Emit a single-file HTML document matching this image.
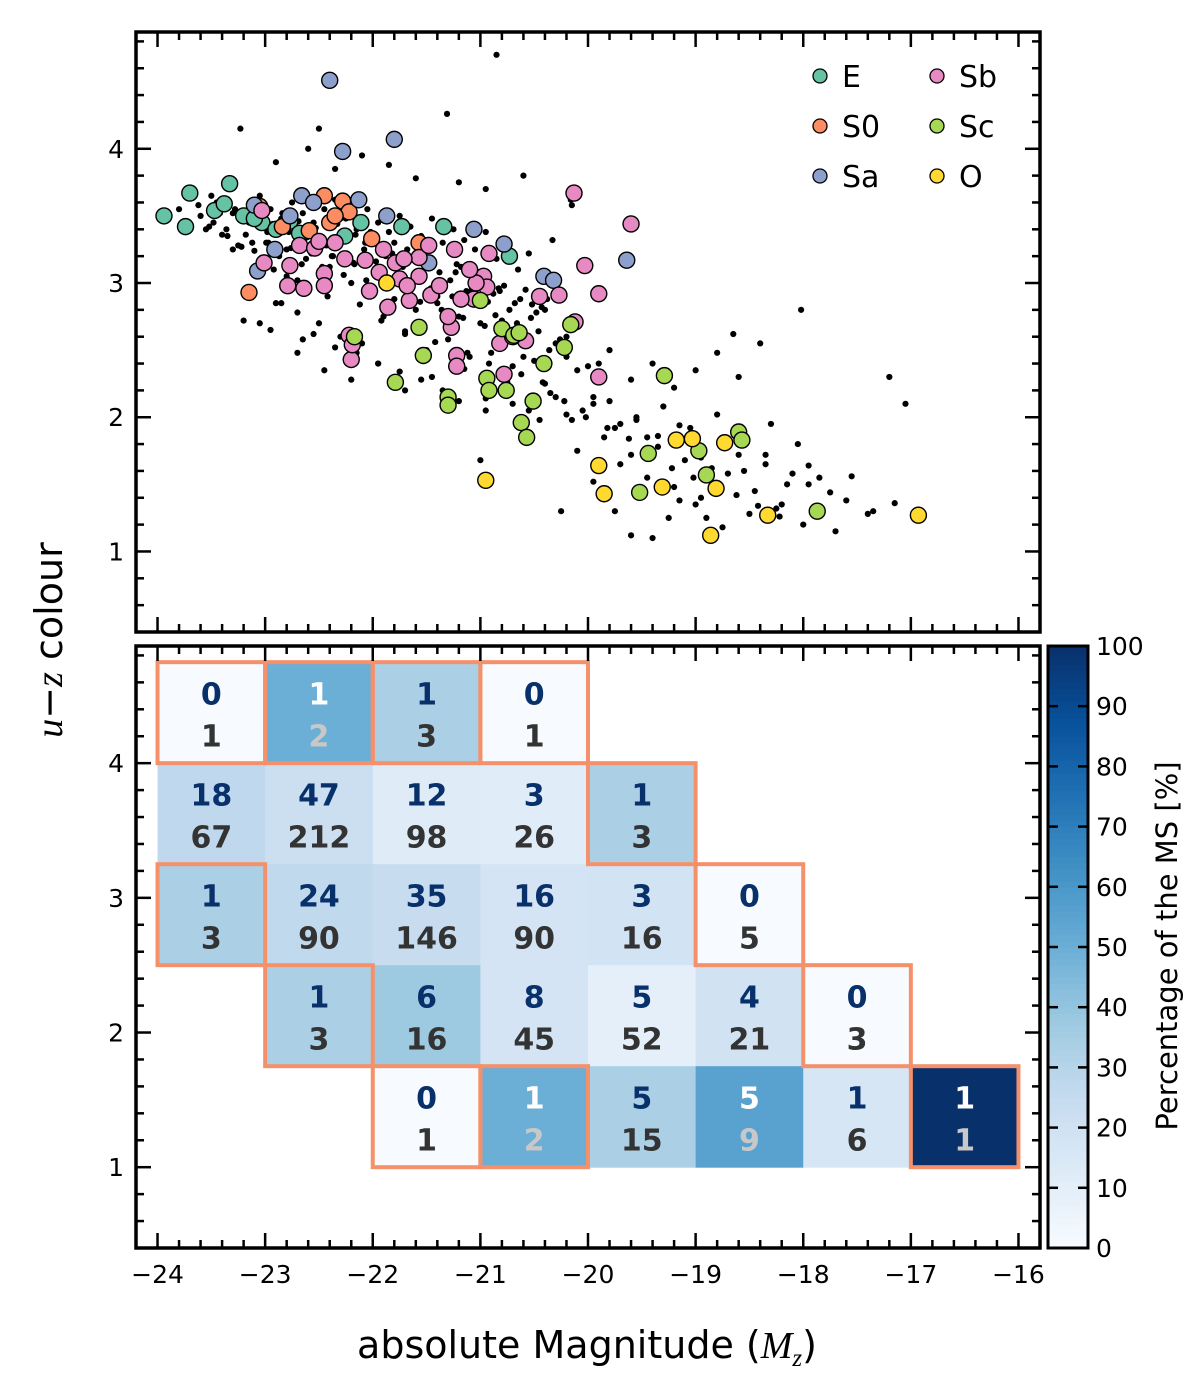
<!DOCTYPE html>
<html><head><meta charset="utf-8"><style>
html,body{margin:0;padding:0;background:#fff}
svg{display:block;font-family:"DejaVu Sans","Liberation Sans",sans-serif}
</style></head><body>
<svg id="fig" width="1200" height="1374" viewBox="0 0 1200 1374" xmlns="http://www.w3.org/2000/svg">
<g id="topPanel"></g>
<g id="botPanel"></g>
<g id="cbar"></g>
<text x="587" y="1358" font-size="38" text-anchor="middle">absolute Magnitude (<tspan font-family="Liberation Serif" font-style="italic">M</tspan><tspan font-family="Liberation Serif" font-style="italic" font-size="25" dy="8">z</tspan><tspan dy="-8">)</tspan></text>
<text transform="translate(62,640) rotate(-90)" font-size="38" text-anchor="middle"><tspan font-family="Liberation Serif" font-style="italic">u</tspan>−<tspan font-family="Liberation Serif" font-style="italic">z</tspan> colour</text>
<text transform="translate(1177,946) rotate(-90)" font-size="29" text-anchor="middle">Percentage of the MS [%]</text>
</svg>
<script>
// ---------- data ----------
const E_mag=[-23.94,-23.74,-23.70,-23.47,-23.33,-23.38,-23.20,-23.03,-22.77,-22.68,-22.26,-22.11,-21.73,-21.34,-20.73,-23.10,-22.90];
const E_col=[3.50,3.42,3.67,3.54,3.74,3.59,3.50,3.45,3.46,3.37,3.35,3.45,3.42,3.42,3.20,3.48,3.40];
const S0_mag=[-23.15,-23.05,-22.84,-22.45,-22.40,-22.28,-22.01,-21.57,-22.22,-22.59,-22.35];
const S0_col=[2.93,3.57,3.42,3.65,3.45,3.61,3.33,3.30,3.53,3.39,3.50];
const Sa_mag=[-22.40,-22.28,-21.80,-22.66,-22.91,-23.07,-22.77,-22.13,-21.87,-21.48,-20.41,-20.78,-19.64,-21.06,-20.32,-23.10,-22.55];
const Sa_col=[4.51,3.98,4.07,3.65,3.25,3.09,3.50,3.62,3.50,3.15,3.05,3.29,3.17,3.40,3.02,3.58,3.60];
const Sb_mag=[-20.13,-19.60,-20.03,-19.90,-20.12,-20.45,-20.27,-20.92,-20.97,-21.06,-21.18,-21.24,-20.94,-20.58,-20.82,-20.78,-21.22,-21.22,-21.27,-19.90,-21.57,-21.66,-21.57,-21.46,-21.38,-21.75,-21.86,-21.79,-22.07,-22.03,-21.94,-22.26,-22.45,-22.45,-22.64,-22.79,-22.77,-23.01,-23.03,-22.68,-22.54,-22.50,-22.22,-22.20,-22.19,-21.68,-21.71,-21.48,-21.04,-20.70,-21.30,-21.90,-22.35,-21.10];
const Sb_col=[3.67,3.44,3.13,2.92,2.71,2.90,2.91,3.22,3.05,2.88,2.88,3.25,2.97,2.57,2.55,2.32,2.46,2.38,2.67,2.30,3.19,2.87,3.05,2.91,2.98,3.03,2.82,3.15,3.17,2.94,3.08,3.18,3.07,2.98,2.96,2.98,3.13,3.15,3.54,3.28,3.26,3.31,2.61,2.43,2.54,2.98,3.18,3.28,3.00,2.60,2.75,3.25,3.30,3.10];
const Sc_mag=[-22.17,-21.57,-21.53,-21.79,-21.30,-21.30,-20.94,-20.92,-20.76,-20.80,-20.69,-20.62,-20.57,-20.51,-20.41,-20.22,-20.16,-20.64,-19.52,-19.44,-19.29,-18.97,-18.90,-18.60,-18.57,-17.87,-21.00];
const Sc_col=[2.60,2.67,2.46,2.26,2.15,2.09,2.29,2.20,2.20,2.66,2.61,1.96,1.85,2.12,2.40,2.52,2.69,2.63,1.44,1.73,2.31,1.75,1.57,1.89,1.83,1.30,2.87];
const O_mag=[-21.87,-20.95,-19.90,-19.85,-19.31,-19.18,-19.03,-18.73,-18.81,-18.86,-18.33,-16.93];
const O_col=[3.00,1.53,1.64,1.43,1.48,1.83,1.84,1.81,1.47,1.12,1.27,1.27];
const dot_mag=[-20.85,-21.31,-23.23,-22.90,-22.60,-22.35,-22.10,-21.85,-21.60,-21.20,-20.95,-20.60,-20.15,-23.80,-23.60,-23.45,-23.30,-23.15,-23.05,-22.95,-22.85,-22.75,-22.65,-22.55,-22.45,-22.35,-22.25,-22.15,-22.05,-21.95,-21.85,-21.75,-21.65,-21.55,-21.45,-21.35,-21.25,-21.15,-21.05,-20.95,-20.85,-20.75,-20.65,-20.55,-23.55,-23.35,-23.25,-23.12,-22.98,-22.88,-22.72,-22.62,-22.48,-22.38,-22.28,-22.18,-22.08,-21.98,-21.88,-21.78,-21.68,-21.58,-21.48,-21.38,-21.28,-21.18,-21.08,-20.98,-20.88,-20.78,-20.68,-20.58,-20.48,-20.38,-23.00,-22.80,-22.60,-22.40,-22.20,-22.00,-21.80,-21.60,-21.40,-21.20,-21.00,-20.80,-20.60,-20.40,-20.20,-22.90,-22.70,-22.50,-22.30,-22.10,-21.90,-21.70,-21.50,-21.30,-21.10,-20.90,-20.70,-20.50,-20.30,-20.10,-19.90,-23.20,-22.95,-22.70,-22.45,-22.20,-21.95,-21.70,-21.45,-21.20,-20.95,-20.70,-20.45,-20.20,-19.95,-19.70,-19.45,-20.40,-20.20,-20.00,-19.80,-19.60,-19.40,-19.20,-19.00,-18.80,-18.60,-20.30,-20.05,-19.80,-19.55,-19.30,-19.05,-18.80,-18.55,-18.30,-18.05,-20.10,-19.85,-19.60,-19.35,-19.10,-18.85,-18.60,-18.35,-18.10,-17.85,-19.95,-19.70,-19.45,-19.20,-18.95,-18.70,-18.45,-18.20,-17.95,-17.60,-19.75,-19.50,-19.25,-19.00,-18.75,-18.50,-18.25,-18.00,-17.70,-17.40,-19.40,-19.15,-18.90,-18.65,-18.40,-17.20,-17.05,-20.60,-20.25,-19.60,-21.00,-21.40,-22.80,-23.50,-22.50,-21.90,
 -23.62,-23.52,-23.42,-23.36,-23.28,-23.18,-23.08,-22.99,-22.93,-22.84,-22.78,-22.69,-22.61,-22.53,-22.43,-22.33,-22.24,-22.16,-22.07,-21.97,-21.91,-21.82,-21.72,-21.63,-21.53,-21.43,-21.33,-21.23,-21.13,-21.03,-20.93,-20.83,-20.73,-20.63,-20.53,-20.43,-20.33,
 -23.48,-23.40,-23.22,-23.10,-22.97,-22.87,-22.76,-22.66,-22.57,-22.47,-22.37,-22.27,-22.17,-22.06,-21.96,-21.86,-21.76,-21.66,-21.56,-21.46,-21.36,-21.26,-21.16,-21.06,-20.96,-20.86,-20.76,-20.66,-20.56,-20.46,-20.36,-20.26,-20.16,
 -23.30,-23.15,-22.92,-22.82,-22.70,-22.58,-22.42,-22.30,-22.12,-22.02,-21.92,-21.80,-21.70,-21.52,-21.42,-21.22,-21.12,-21.02,-20.92,-20.82,-20.62,-20.52,-20.42,-20.22,-20.02,-19.82,-19.62,-19.42,-19.22,-19.02,-18.82,-18.62,-18.42,-18.22,-18.02,
 -23.05,-22.85,-22.65,-22.55,-22.35,-22.15,-21.95,-21.75,-21.55,-21.35,-21.15,-20.95,-20.75,-20.55,-20.35,-20.15,-19.95,-19.75,-19.55,-19.35,-19.15,-18.95,-18.75,-18.55,-18.35,-18.15,-17.95,-17.75,-17.55,-17.35,-17.15,-16.95];
const dot_col=[4.70,4.26,4.15,3.90,4.00,3.85,3.95,3.88,3.78,3.75,3.70,3.80,3.58,3.55,3.50,3.60,3.52,3.45,3.65,3.55,3.48,3.60,3.52,3.45,3.55,3.62,3.48,3.40,3.55,3.45,3.38,3.50,3.42,3.35,3.48,3.30,3.40,3.32,3.25,3.38,3.18,3.30,3.10,3.22,3.40,3.35,3.28,3.30,3.38,3.22,3.35,3.18,3.28,3.20,3.32,3.15,3.25,3.10,3.20,3.12,3.25,3.05,3.15,3.08,3.02,3.12,2.95,3.05,2.92,2.98,2.85,2.95,2.78,2.88,3.15,3.05,2.95,3.12,3.00,2.92,2.88,2.80,2.85,2.75,2.70,2.72,2.65,2.80,2.60,2.85,2.78,2.70,2.60,2.55,2.75,2.62,2.50,2.58,2.45,2.48,2.38,2.42,2.55,2.35,2.40,2.72,2.65,2.48,2.35,2.28,2.40,2.20,2.30,2.12,2.05,2.10,1.98,2.02,2.15,1.95,1.85,2.25,2.45,2.38,2.50,2.28,2.40,2.22,2.35,2.48,2.30,2.15,2.05,2.12,1.98,2.08,1.92,2.02,1.88,1.95,1.80,1.75,1.85,1.72,1.78,1.68,1.62,1.72,1.65,1.58,1.55,1.52,1.65,1.55,1.48,1.40,1.58,1.45,1.35,1.50,1.38,1.30,1.42,1.25,1.35,1.18,1.28,1.32,1.20,1.15,1.28,1.10,1.38,1.25,2.62,2.55,2.30,2.10,2.45,1.30,1.12,1.68,2.90,3.25,3.65,4.15,
 3.47,3.58,3.42,3.52,3.40,3.55,3.36,3.50,3.30,3.44,3.52,3.38,3.46,3.34,3.41,3.28,3.44,3.22,3.36,3.30,3.16,3.28,3.22,3.12,3.18,3.06,3.14,3.00,3.08,2.94,3.02,2.86,2.96,2.80,2.88,2.74,2.82,
 3.32,3.45,3.36,3.27,3.24,3.30,3.20,3.26,3.14,3.22,3.12,3.20,3.06,3.14,3.02,3.10,2.98,3.04,2.92,2.86,2.96,2.80,2.90,2.74,2.84,2.68,2.76,2.62,2.70,2.56,2.64,2.50,2.58,
 3.62,3.25,3.56,3.10,3.44,3.02,3.58,2.90,3.48,2.84,3.38,2.72,3.30,2.64,3.22,2.56,3.14,2.48,3.04,2.40,2.94,2.32,2.84,2.26,2.12,2.00,1.92,1.84,1.70,1.62,1.55,1.48,1.42,1.34,1.26,
 2.80,2.70,2.85,2.58,2.62,2.52,2.48,2.40,2.34,2.28,2.20,2.36,2.14,2.26,2.05,2.18,1.98,2.10,1.92,2.00,1.86,1.94,1.70,1.82,1.60,1.72,1.50,1.64,1.44,1.56,1.30,1.36];
// heatmap
const cellMag=[-24,-23,-22,-21, -24,-23,-22,-21,-20, -24,-23,-22,-21,-20,-19, -23,-22,-21,-20,-19,-18, -22,-21,-20,-19,-18,-17];
const cellCol=[4,4,4,4, 3.25,3.25,3.25,3.25,3.25, 2.5,2.5,2.5,2.5,2.5,2.5, 1.75,1.75,1.75,1.75,1.75,1.75, 1,1,1,1,1,1];
const cellMS=[0,1,1,0, 18,47,12,3,1, 1,24,35,16,3,0, 1,6,8,5,4,0, 0,1,5,5,1,1];
const cellN=[1,2,3,1, 67,212,98,26,3, 3,90,146,90,16,5, 3,16,45,52,21,3, 1,2,15,9,6,1];
const xTicks=[-24,-23,-22,-21,-20,-19,-18,-17,-16];
const yTicks=[1,2,3,4];
const cbTicks=[0,10,20,30,40,50,60,70,80,90,100];

// ---------- helpers ----------
const NS='http://www.w3.org/2000/svg';
function mk(parent,tag,attrs,text){const e=document.createElementNS(NS,tag);for(const k in attrs)e.setAttribute(k,attrs[k]);if(text!==undefined)e.textContent=text;parent.appendChild(e);return e;}
const X0=136,X1=1040,XMIN=-24.2,XMAX=-15.8;
const sx=v=>X0+(v-XMIN)/(XMAX-XMIN)*(X1-X0);
const YMIN=0.4,YMAX=4.87;
function syFor(t,b){return v=>b-(v-YMIN)/(YMAX-YMIN)*(b-t);}
const TOPBOX={t:32,b:632},BOTBOX={t:646,b:1248};
const syT=syFor(TOPBOX.t,TOPBOX.b), syB=syFor(BOTBOX.t,BOTBOX.b);
const stops=[[0,'#f7fbff'],[.125,'#deebf7'],[.25,'#c6dbef'],[.375,'#9ecae1'],[.5,'#6baed6'],[.625,'#4292c6'],[.75,'#2171b5'],[.875,'#08519c'],[1,'#08306b']];
function hex(h){return[1,3,5].map(i=>parseInt(h.substr(i,2),16));}
function blues(t){t=Math.max(0,Math.min(1,t));for(let i=1;i<stops.length;i++){if(t<=stops[i][0]){const a=stops[i-1],b=stops[i];const f=(t-a[0])/(b[0]-a[0]);const ca=hex(a[1]),cb=hex(b[1]);return 'rgb('+ca.map((c,j)=>Math.round(c+(cb[j]-c)*f)).join(',')+')';}}return stops[8][1];}

function axes(g,sy,box,xlabels){
  for(let k=0;k<=40;k++){
    const v=-24+k*0.2;const x=sx(v);const major=k%5===0;const L=major?15:8;
    const t=mk(g,'line',{x1:x,x2:x,y1:box.b,y2:box.b-L,stroke:'#000','stroke-width':2.5});
    
    
    mk(g,'line',{x1:x,x2:x,y1:box.t,y2:box.t+L,stroke:'#000','stroke-width':2.5});
  }
  for(let k=2;k<=24;k++){
    const vv=k*0.2;const y=sy(vv);const major=k%5===0;const L=major?15:8;
    const t=mk(g,'line',{x1:X0,x2:X0+L,y1:y,y2:y,stroke:'#000','stroke-width':2.5});
    
    
    mk(g,'line',{x1:X1,x2:X1-L,y1:y,y2:y,stroke:'#000','stroke-width':2.5});
  }
  yTicks.forEach(v=>{const t=mk(g,'text',{x:X0-12,y:sy(v)+9,'font-size':25,'text-anchor':'end'},String(v));
    
    });
  if(xlabels)xTicks.forEach(v=>{const t=mk(g,'text',{x:sx(v),y:box.b+35,'font-size':25,'text-anchor':'middle'},'−'+Math.abs(v));
    
    });
  const f=mk(g,'rect',{x:X0,y:box.t,width:X1-X0,height:box.b-box.t,fill:'none',stroke:'#000','stroke-width':3.5});
  
  
}

// ---------- top scatter ----------
const topG=document.getElementById('topPanel');
dot_mag.forEach((m,i)=>{if(dot_col[i]===undefined)return;const c=mk(topG,'circle',{cx:sx(m),cy:syT(dot_col[i]),r:3.1,fill:'#000'});
  
  });
const types=[['E',E_mag,E_col,'#66c2a5'],['S0',S0_mag,S0_col,'#fc8d62'],['Sa',Sa_mag,Sa_col,'#8da0cb'],['Sb',Sb_mag,Sb_col,'#e78ac3'],['Sc',Sc_mag,Sc_col,'#a6d854'],['O',O_mag,O_col,'#ffd92f']];
types.forEach(([n,ms,cs,col])=>{ms.forEach((m,i)=>{if(cs[i]===undefined)return;const c=mk(topG,'circle',{cx:sx(m),cy:syT(cs[i]),r:8,fill:col,stroke:'#000','stroke-width':1.4});
  
  });});
axes(topG,syT,TOPBOX,false);
const lg=mk(topG,'g',{});


types.forEach(([n,,,col],i)=>{const colI=Math.floor(i/3),row=i%3;const x=colI?937:820,y=76+row*50;
  const e=mk(lg,'g',{});
  
  
  mk(e,'circle',{cx:x,cy:y,r:7,fill:col,stroke:'#000','stroke-width':1.3});
  mk(e,'text',{x:x+22,y:y+11,'font-size':30},n);});

// ---------- bottom heatmap ----------
const botG=document.getElementById('botPanel');
const W=sx(-23)-sx(-24), H=syB(1)-syB(1.75);
cellMag.forEach((m,i)=>{const p=cellMS[i]/cellN[i];const x=sx(m),y=syB(cellCol[i]+0.75);
  const r=mk(botG,'rect',{x:x,y:y,width:W+0.5,height:H+0.5,fill:blues(p)});
  
  });
cellMag.forEach((m,i)=>{if(cellN[i]<=5){const x=sx(m),y=syB(cellCol[i]+0.75);
  const r=mk(botG,'rect',{x:x,y:y,width:W,height:H,fill:'none',stroke:'#f4916a','stroke-width':4});
  
  }});
cellMag.forEach((m,i)=>{const p=cellMS[i]/cellN[i];const cx=sx(m)+W/2,cy=syB(cellCol[i]+0.375);const dark=p>=0.5;
  const a=mk(botG,'text',{x:cx,y:cy-8,'font-size':30,'font-weight':'bold','text-anchor':'middle',fill:dark?'#fff':'#08306b'},String(cellMS[i]));
  
  
  const b=mk(botG,'text',{x:cx,y:cy+34,'font-size':30,'font-weight':'bold','text-anchor':'middle',fill:dark?'#c8c8c8':'#333'},String(cellN[i]));
  
  });
axes(botG,syB,BOTBOX,true);

// ---------- colorbar ----------
const cb=document.getElementById('cbar');
const CX=1048,CW=40,CT=646,CB=1248;
for(let i=0;i<100;i++){const y0=CB-(i+1)/100*(CB-CT);mk(cb,'rect',{x:CX,y:y0,width:CW,height:(CB-CT)/100+0.6,fill:blues((i+0.5)/100)});}
const cf=mk(cb,'rect',{x:CX,y:CT,width:CW,height:CB-CT,fill:'none',stroke:'#000','stroke-width':3});


cbTicks.forEach(v=>{const y=CB-v/100*(CB-CT);
  mk(cb,'line',{x1:CX,x2:CX+10,y1:y,y2:y,stroke:'#000','stroke-width':2.5});
  mk(cb,'line',{x1:CX+CW,x2:CX+CW-10,y1:y,y2:y,stroke:'#000','stroke-width':2.5});
  const t=mk(cb,'text',{x:CX+CW+8,y:y+9,'font-size':25},String(v));
  
  });
</script>
</body></html>
